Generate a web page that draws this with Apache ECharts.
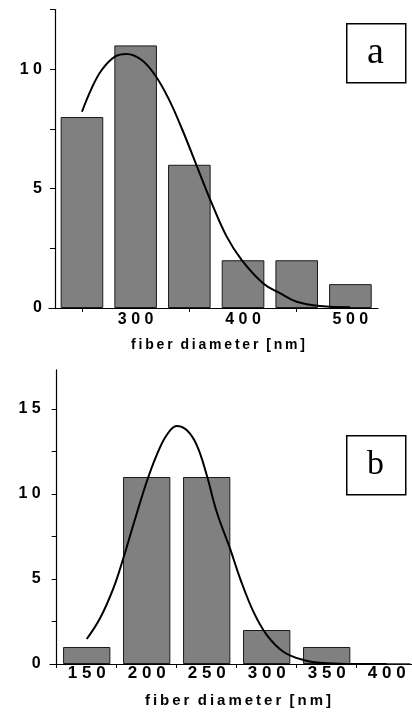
<!DOCTYPE html>
<html>
<head>
<meta charset="utf-8">
<script src="https://cdn.jsdelivr.net/npm/echarts@6/dist/echarts.min.js"></script>
<style>
html,body{margin:0;padding:0;background:#fff;}
#chart{width:412px;height:713px;}
</style>
</head>
<body>
<div id="chart"></div>
<script>
// ---- Panel a data ----
const binsA = [250, 300, 350, 400, 450, 500];
const countsA = [8, 11, 6, 2, 2, 1];
const fitXA = [250, 259, 268.4, 280.7, 291.6, 305.6, 318, 330.4, 342.9, 359.9, 370.8, 384.8, 398.8, 418.9, 434.4, 450, 471.7, 499.7];
const fitYA = [8.22, 9.2, 9.97, 10.53, 10.64, 10.39, 9.76, 8.79, 7.53, 5.61, 4.39, 2.99, 2.01, 1.03, 0.62, 0.26, 0.08, 0.03];
const xLabelsA = [300, 400, 500];
const xTicksA = [250, 350, 450];
const yLabelsA = [0, 5, 10];
const yTicksA = [0, 2.5, 5, 7.5, 10, 12.5];

// ---- Panel b data ----
const binsB = [150, 200, 250, 300, 350, 400];
const countsB = [1, 11, 11, 2, 1, 0];
const fitXB = [150, 161.1, 172.2, 180.5, 188.8, 200, 208.3, 216.7, 225, 233.3, 241.7, 250, 258.3, 269.4, 277.8, 288.9, 300, 313.9, 330.5, 350, 375, 400];
const fitYB = [1.47, 2.69, 4.45, 6.22, 8.18, 10.72, 12.29, 13.47, 14.0, 13.76, 12.88, 11.12, 8.96, 6.8, 5.04, 3.08, 1.71, 0.72, 0.24, 0.04, 0.0, 0.0];
const xLabelsB = [150, 200, 250, 300, 350, 400];
const xTicksB = [125, 175, 225, 275, 325, 375];
const yLabelsB = [0, 5, 10, 15];
const yTicksB = [0, 2.5, 5, 7.5, 10, 12.5, 15];

const axisTitle = 'fiber diameter [nm]';
const panelLetters = ['a', 'b'];

const SANS = '"Liberation Sans", Arial, sans-serif';
const SERIF = '"Liberation Serif", "Times New Roman", serif';
const spaced = v => String(v).split('').join(' ');
const THIN = '\u2009';
const spacedTitle = s => {
  const w = s.split(' ').map(x => x.split('').join(THIN));
  return w[0] + '  ' + w[1] + '  ' + w[2];
};

const axisLineStyle = { show: true, onZero: false, lineStyle: { color: '#000', width: 1.2 } };

const chart = echarts.init(document.getElementById('chart'), null, { renderer: 'canvas' });

const option = {
  backgroundColor: '#fff',
  animation: false,
  grid: [
    { left: 49, right: 34, top: 9.6, bottom: 405 },
    { left: 50, right: 0, top: 369.9, bottom: 49 }
  ],
  xAxis: [
    {
      gridIndex: 0, type: 'value', min: 219.3, max: 525.7,
      axisLine: axisLineStyle,
      axisTick: { show: true, customValues: xTicksA, length: 4, lineStyle: { color: '#000', width: 1 } },
      axisLabel: { customValues: xLabelsA, formatter: spaced, margin: 4, color: '#000',
        fontFamily: SANS, fontWeight: 'bold', fontSize: 16 },
      splitLine: { show: false },
      name: spacedTitle(axisTitle), nameLocation: 'middle', nameGap: 30,
      nameTextStyle: { fontFamily: SANS, fontWeight: 'bold', fontSize: 14, color: '#000', padding: [0, 0, 0, 9] }
    },
    {
      gridIndex: 1, type: 'value', min: 119.4, max: 421.1,
      axisLine: axisLineStyle,
      axisTick: { show: true, customValues: xTicksB, length: 4, lineStyle: { color: '#000', width: 1 } },
      axisLabel: { customValues: xLabelsB, formatter: spaced, margin: 1, color: '#000',
        fontFamily: SANS, fontWeight: 'bold', fontSize: 17 },
      splitLine: { show: false },
      name: spacedTitle(axisTitle), nameLocation: 'middle', nameGap: 29,
      nameTextStyle: { fontFamily: SANS, fontWeight: 'bold', fontSize: 15, color: '#000', padding: [0, 0, 0, 14] }
    }
  ],
  yAxis: [
    {
      gridIndex: 0, type: 'value', min: 0, max: 12.5, offset: -6,
      axisLine: axisLineStyle,
      axisTick: { show: true, customValues: yTicksA, length: 5, lineStyle: { color: '#000', width: 1 } },
      axisLabel: { customValues: yLabelsA, formatter: spaced, margin: 13, color: '#000',
        fontFamily: SANS, fontWeight: 'bold', fontSize: 16 },
      splitLine: { show: false }
    },
    {
      gridIndex: 1, type: 'value', min: 0, max: 17.3, offset: -6.7,
      axisLine: axisLineStyle,
      axisTick: { show: true, customValues: yTicksB, length: 5, lineStyle: { color: '#000', width: 1 } },
      axisLabel: { customValues: yLabelsB, formatter: spaced, margin: 16, color: '#000',
        fontFamily: SANS, fontWeight: 'bold', fontSize: 16 },
      splitLine: { show: false }
    }
  ],
  series: [
    {
      type: 'bar', xAxisIndex: 0, yAxisIndex: 0, barWidth: 42.6,
      data: binsA.map((x, i) => [x, countsA[i]]),
      itemStyle: { color: '#808080', borderColor: '#1a1a1a', borderWidth: 1 }
    },
    {
      type: 'line', xAxisIndex: 0, yAxisIndex: 0, smooth: 0.4, showSymbol: false,
      data: fitXA.map((x, i) => [x, fitYA[i]]),
      lineStyle: { color: '#000', width: 2 }, z: 5
    },
    {
      type: 'bar', xAxisIndex: 1, yAxisIndex: 1, barWidth: 47.3,
      data: binsB.map((x, i) => [x, countsB[i]]),
      itemStyle: { color: '#808080', borderColor: '#1a1a1a', borderWidth: 1 }
    },
    {
      type: 'line', xAxisIndex: 1, yAxisIndex: 1, smooth: 0.4, showSymbol: false,
      data: fitXB.map((x, i) => [x, fitYB[i]]),
      lineStyle: { color: '#000', width: 2 }, z: 5
    }
  ],
  graphic: [
    { type: 'rect', left: 346, top: 23, shape: { width: 59, height: 59 },
      style: { fill: '#fff', stroke: '#000', lineWidth: 1.5 }, z: 10 },
    { type: 'text', x: 375.5, y: 53, style: { text: panelLetters[0], font: '38px ' + SERIF,
      fill: '#000', align: 'center', verticalAlign: 'middle' }, z: 11 },
    { type: 'rect', left: 346, top: 435, shape: { width: 59, height: 59 },
      style: { fill: '#fff', stroke: '#000', lineWidth: 1.5 }, z: 10 },
    { type: 'text', x: 375.5, y: 465, style: { text: panelLetters[1], font: '34px ' + SERIF,
      fill: '#000', align: 'center', verticalAlign: 'middle' }, z: 11 }
  ]
};
chart.setOption(option);
</script>
</body>
</html>
